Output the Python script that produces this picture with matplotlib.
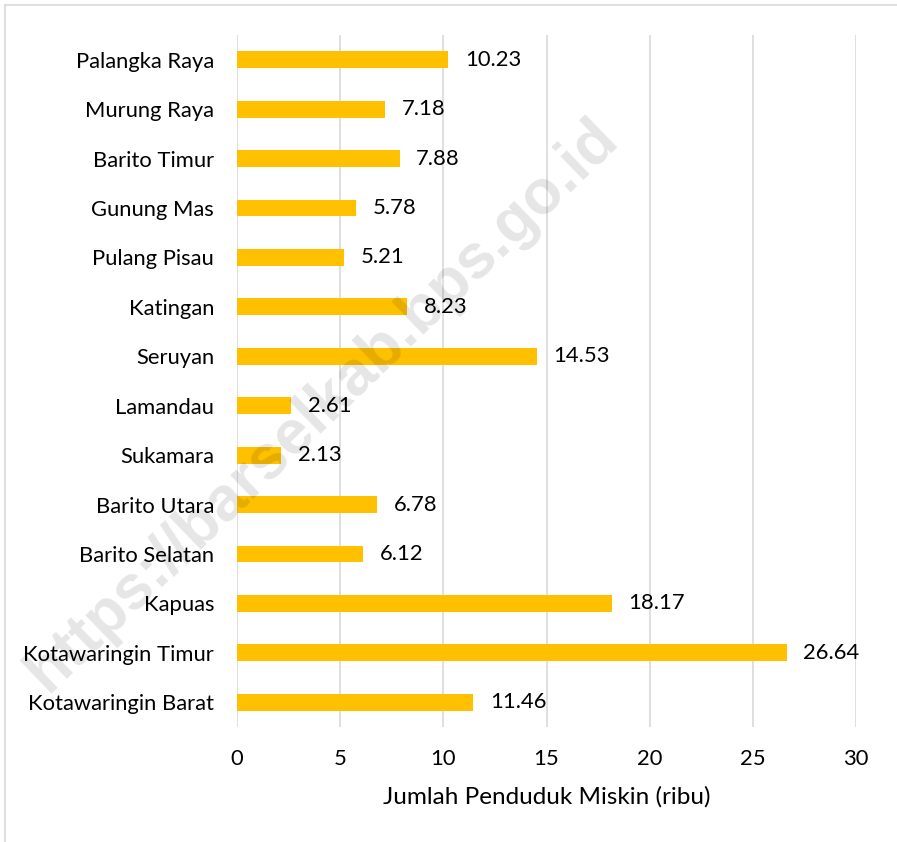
import matplotlib
matplotlib.use("Agg")
import matplotlib.pyplot as plt
from matplotlib.lines import Line2D

categories = ["Kotawaringin Barat", "Kotawaringin Timur", "Kapuas", "Barito Selatan",
              "Barito Utara", "Sukamara", "Lamandau", "Seruyan", "Katingan",
              "Pulang Pisau", "Gunung Mas", "Barito Timur", "Murung Raya", "Palangka Raya"]
values = [11.46, 26.64, 18.17, 6.12, 6.78, 2.13, 2.61, 14.53, 8.23, 5.21, 5.78, 7.88, 7.18, 10.23]
xticks = [0, 5, 10, 15, 20, 25, 30]
xlabel = "Jumlah Penduduk Miskin (ribu)"
watermark = "https://barselkab.bps.go.id"

plt.rcParams['font.family'] = ['Lato', 'DejaVu Sans']

W, H = 897, 842
fig = plt.figure(figsize=(W/100, H/100), dpi=100)
ax = fig.add_axes([237/W, 1-727/H, (856-237)/W, (727-35)/H])

y = list(range(len(categories)))
ax.barh(y, values, height=0.34, color="#FFC000", zorder=3)
for yi, v in zip(y, values):
    ax.annotate(f"{v:.2f}", (v, yi), xytext=(12, 0), textcoords="offset points",
                va="center", ha="left", fontsize=15.8, color="#000000", zorder=4)

ax.set_xlim(0, 30)
ax.set_ylim(-0.5, len(categories)-0.5)
ax.set_xticks(xticks)
ax.set_xticklabels([str(t) for t in xticks])
ax.set_yticks(y)
ax.set_yticklabels(categories)
ax.tick_params(axis='both', length=0, labelsize=15.8, colors="#000000")
ax.tick_params(axis='x', pad=16)
ax.tick_params(axis='y', pad=16.5)
ax.grid(axis='x', color="#D9D9D9", linewidth=1.2, zorder=0)
for s in ax.spines.values():
    s.set_visible(False)
ax.set_xlabel(xlabel, fontsize=17.5, labelpad=12)

# outer frame (left and top)
fig.add_artist(Line2D([5/W, 5/W], [0, 1-5/H], transform=fig.transFigure, color="#D9D9D9", linewidth=1.2))
fig.add_artist(Line2D([5/W, 1], [1-5/H, 1-5/H], transform=fig.transFigure, color="#D9D9D9", linewidth=1.2))

fig.text(322/W, 1-405/H, watermark, rotation=44, ha="center", va="center",
         fontsize=45, fontweight="bold", color="#000000", alpha=0.10,
         family=['Liberation Sans', 'DejaVu Sans'], zorder=10)

fig.savefig("out.png", dpi=100, facecolor="white")
